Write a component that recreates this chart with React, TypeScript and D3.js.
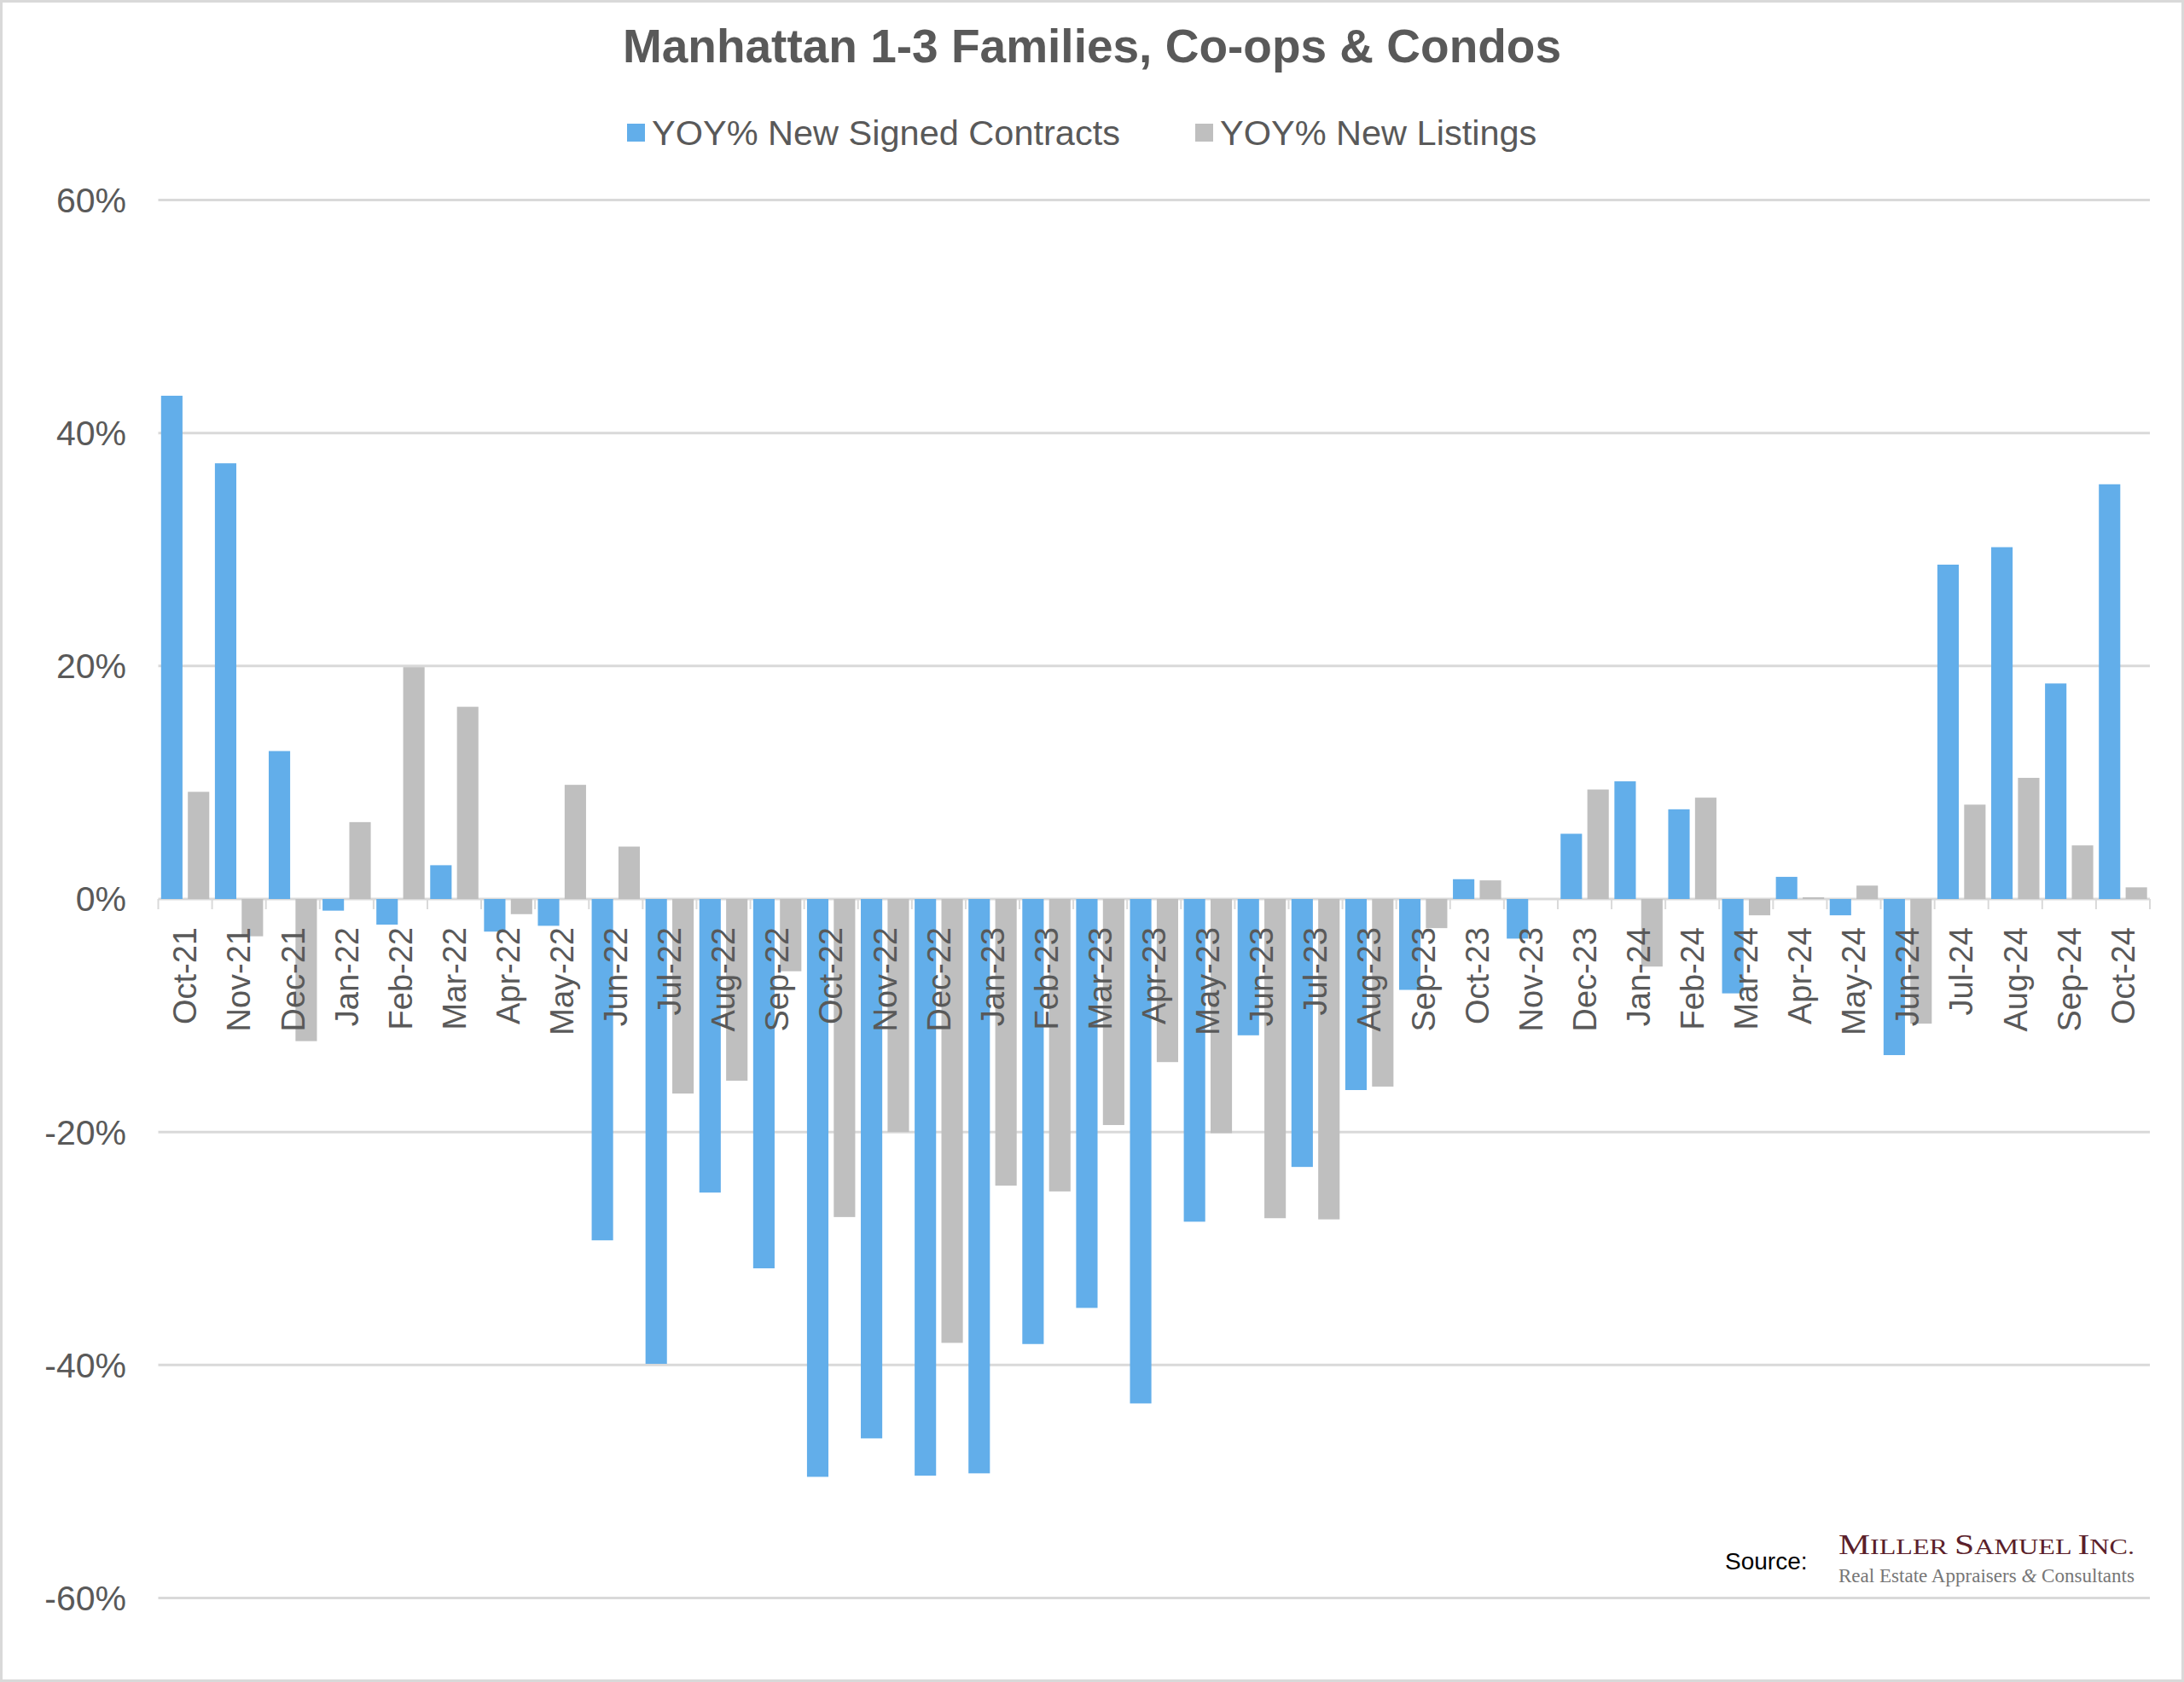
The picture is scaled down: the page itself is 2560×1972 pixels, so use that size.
import * as React from "react";
import * as d3 from "d3";

const months = [
  "Oct-21", "Nov-21", "Dec-21", "Jan-22", "Feb-22", "Mar-22", "Apr-22", "May-22",
  "Jun-22", "Jul-22", "Aug-22", "Sep-22", "Oct-22", "Nov-22", "Dec-22", "Jan-23",
  "Feb-23", "Mar-23", "Apr-23", "May-23", "Jun-23", "Jul-23", "Aug-23", "Sep-23",
  "Oct-23", "Nov-23", "Dec-23", "Jan-24", "Feb-24", "Mar-24", "Apr-24", "May-24",
  "Jun-24", "Jul-24", "Aug-24", "Sep-24", "Oct-24"
];

// YOY% New Signed Contracts
const contracts = [
  43.2, 37.4, 12.7, -1.0, -2.2, 2.9, -2.8, -2.3,
  -29.3, -39.9, -25.2, -31.7, -49.6, -46.3, -49.5, -49.3,
  -38.2, -35.1, -43.3, -27.7, -11.7, -23.0, -16.4, -7.8,
  1.7, -3.4, 5.6, 10.1, 7.7, -8.1, 1.9, -1.4,
  -13.4, 28.7, 30.2, 18.5, 35.6
];

// YOY% New Listings
const listings = [
  9.2, -3.2, -12.2, 6.6, 19.9, 16.5, -1.3, 9.8,
  4.5, -16.7, -15.6, -6.2, -27.3, -20.0, -38.1, -24.6,
  -25.1, -19.4, -14.0, -20.1, -27.4, -27.5, -16.1, -2.5,
  1.6, 0, 9.4, -5.8, 8.7, -1.4, 0.15, 1.15,
  -10.7, 8.1, 10.4, 4.6, 1.0
];

const yTicks = [-60, -40, -20, 0, 20, 40, 60];

const seriesNames = ["YOY% New Signed Contracts", "YOY% New Listings"];
const seriesColors = ["#62AEEA", "#BFBFBF"];

// logo words: first letter big, rest small caps
const logoWords = ["Miller ", "Samuel ", "Inc."];

const W = 2560;
const H = 1972;
const FONT = "'Liberation Sans', Arial, sans-serif";
const SERIF = "'Liberation Serif', 'Times New Roman', serif";
const TEXT = "#595959";
const GRID = "#D9D9D9";

export default function App() {
  React.useEffect(() => {
    document.body.style.margin = "0";
  }, []);

  const x = d3.scaleBand<string>().domain(months).range([185.5, 2520]).padding(0);
  const xs = d3
    .scaleBand<string>()
    .domain(["contracts", "listings"])
    .range([0, x.bandwidth()])
    .paddingInner(0.2)
    .paddingOuter(0.105);
  const y = d3.scaleLinear().domain([-60, 60]).range([1873.5, 234.5]);

  const series = [
    { key: "contracts", values: contracts, color: seriesColors[0] },
    { key: "listings", values: listings, color: seriesColors[1] }
  ];

  return (
    <svg width={W} height={H} style={{ display: "block", background: "#fff" }}>
      <rect x={1.5} y={1.5} width={W - 3} height={H - 3} fill="#fff" stroke={GRID} strokeWidth={3} />

      <text x={W / 2} y={73} textAnchor="middle" fontFamily={FONT} fontWeight="bold" fontSize={55} fill={TEXT}>
        Manhattan 1-3 Families, Co-ops &amp; Condos
      </text>

      {/* legend */}
      <g className="legend" fontFamily={FONT} fontSize={41.5} fill={TEXT}>
        {[735, 1401].map((lx, i) => (
          <g key={seriesNames[i]}>
            <rect x={lx} y={145} width={21} height={21} fill={seriesColors[i]} />
            <text x={lx + 29} y={170}>
              {seriesNames[i]}
            </text>
          </g>
        ))}
      </g>

      {/* grid + y labels */}
      <g className="axis axis--y" fontFamily={FONT} fontSize={41} fill={TEXT}>
        {yTicks.map(t => (
          <g key={t}>
            <line x1={x.range()[0]} x2={x.range()[1]} y1={y(t)} y2={y(t)} stroke={GRID} strokeWidth={3} />
            <text x={148} y={y(t)} dy="0.35em" textAnchor="end">
              {t + "%"}
            </text>
          </g>
        ))}
      </g>

      {/* bars */}
      {series.map(s => (
        <g className="graph" key={s.key}>
          {s.values.map((v, i) => (
            <rect
              key={months[i]}
              x={(x(months[i]) as number) + (xs(s.key) as number)}
              width={xs.bandwidth()}
              y={Math.min(y(v), y(0))}
              height={Math.abs(y(v) - y(0))}
              fill={s.color}
            />
          ))}
        </g>
      ))}

      {/* x axis */}
      <g className="axis axis--x" fontFamily={FONT} fontSize={38} fill={TEXT}>
        {months.map(m => (
          <line
            key={"t" + m}
            x1={x(m) as number}
            x2={x(m) as number}
            y1={y(0)}
            y2={y(0) + 12}
            stroke={GRID}
            strokeWidth={2}
          />
        ))}
        <line
          x1={x.range()[1]}
          x2={x.range()[1]}
          y1={y(0)}
          y2={y(0) + 12}
          stroke={GRID}
          strokeWidth={2}
        />
        {months.map(m => {
          const cx = (x(m) as number) + x.bandwidth() / 2;
          return (
            <text key={m} transform={`translate(${cx},${y(0) + 33}) rotate(-90)`} dy="0.35em" textAnchor="end">
              {m}
            </text>
          );
        })}
      </g>

      {/* source */}
      <text x={2022} y={1840} fontFamily={FONT} fontSize={28} fill="#000">
        Source:
      </text>
      <text
        x={2155}
        y={1822}
        fontFamily={SERIF}
        fill="#5B1F2B"
        textLength={347}
        lengthAdjust="spacingAndGlyphs"
      >
        {logoWords.map(w => (
          <React.Fragment key={w}>
            <tspan fontSize={33}>{w[0]}</tspan>
            <tspan fontSize={25.5}>{w.slice(1).toUpperCase()}</tspan>
          </React.Fragment>
        ))}
      </text>
      <text
        x={2155}
        y={1855}
        fontFamily={SERIF}
        fontSize={23}
        fill="#767676"
        textLength={347}
        lengthAdjust="spacingAndGlyphs"
      >
        Real Estate Appraisers <tspan fontStyle="italic">&amp;</tspan> Consultants
      </text>
    </svg>
  );
}
